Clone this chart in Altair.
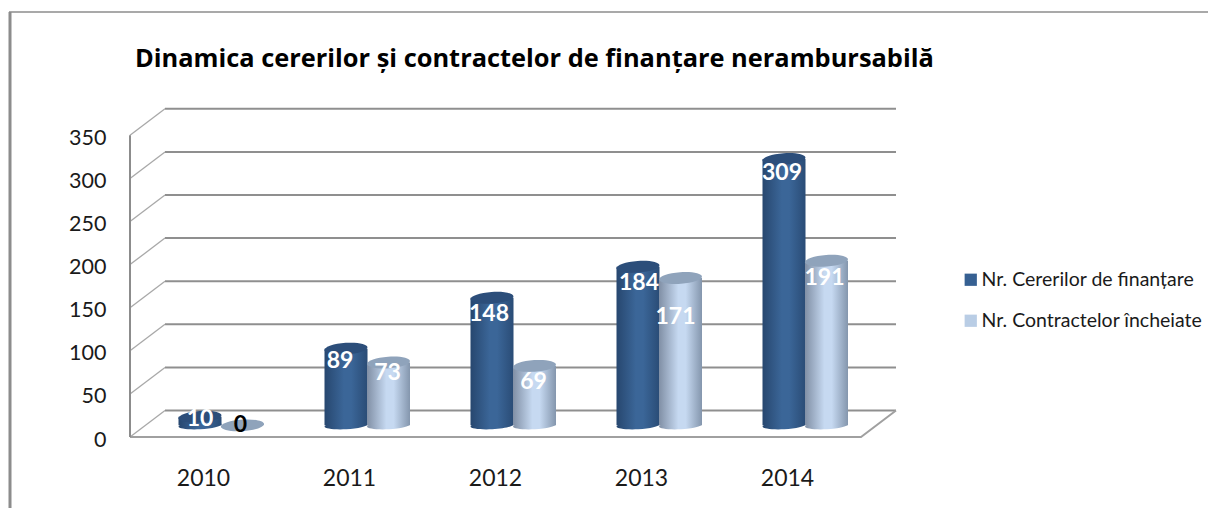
import altair as alt
import pandas as pd

years = [2010, 2011, 2012, 2013, 2014]
series_names = ["Nr. Cererilor de finanțare", "Nr. Contractelor încheiate"]
cereri = [10, 89, 148, 184, 309]
contracte = [0, 73, 69, 171, 191]
y_ticks = [0, 50, 100, 150, 200, 250, 300, 350]
title_text = "Dinamica cererilor și contractelor de finanțare nerambursabilă"

# ---- geometry / style (not data)
W, H = 766, 328
PX_X = 146.0
PX_Y = 0.862
X_DOM = [2009.5, 2009.5 + W / PX_X]
Y_DOM = [0, H / PX_Y]
DEPTH_X = 35 / PX_X
DEPTH_Y = 26.5 / PX_Y
BASE = 13.5          # cylinders stand mid-depth on the floor
HALF = 21.5 / PX_X
OFFS = [-3 / PX_X, 39.5 / PX_X]
FONT = "Lato"
GRID = "#8f8f8f"
LABEL_SHIFT = {  # px below top of cylinder, px sideways
    0: [(2, 0), (12, -6), (16, -3), (16, 1), (14, -2)],
    1: [(0, -2), (11, -1), (16, -1), (39, -5), (17, -2)],
}

x_s = alt.Scale(domain=X_DOM, nice=False, zero=False)
y_s = alt.Scale(domain=Y_DOM, nice=False, zero=False)
X = lambda f, **k: alt.X(f, type="quantitative", scale=x_s, title=None, **k)
Y = lambda f, **k: alt.Y(f, type="quantitative", scale=y_s, title=None, **k)


def grad(edge_l, mid, edge_r):
    return alt.Gradient(
        gradient="linear", x1=0, x2=1, y1=0, y2=0,
        stops=[alt.GradientStop(offset=0, color=edge_l),
               alt.GradientStop(offset=0.45, color=mid),
               alt.GradientStop(offset=0.62, color=mid),
               alt.GradientStop(offset=1, color=edge_r)],
    )


body_fill = [grad("#27476f", "#3b6698", "#2a4c76"), grad("#808fa5", "#c6d9f1", "#8496ad")]
cap_fill = ["#2c4e7a", "#8fa3bb"]

rows = []
for si, vals in enumerate([cereri, contracte]):
    for i, (yr, v) in enumerate(zip(years, vals)):
        c = yr + OFFS[si]
        dy, dx = LABEL_SHIFT[si][i]
        rows.append(dict(series=series_names[si], si=si, cx=c, x0=c - HALF, x1=c + HALF,
                         base=BASE, top=BASE + v, v=v,
                         lx=c + dx / PX_X, ly=BASE + v - dy / PX_Y,
                         lc="#000000" if v == 0 else "#ffffff"))
df = pd.DataFrame(rows)

# grid: side wall diagonal and back wall horizontal for every tick
slant = []
back = []
for t in y_ticks:
    slant += [dict(t=t, x=X_DOM[0], y=t), dict(t=t, x=X_DOM[0] + DEPTH_X, y=t + DEPTH_Y)]
    back += [dict(t=t, x=X_DOM[0] + DEPTH_X, y=t + DEPTH_Y), dict(t=t, x=X_DOM[1], y=t + DEPTH_Y)]
floor_front = [dict(x=X_DOM[0], y=0), dict(x=X_DOM[1] - DEPTH_X, y=0), dict(x=X_DOM[1], y=DEPTH_Y)]
wall = [dict(x=X_DOM[0], y=0), dict(x=X_DOM[0], y=350)]

base_axes = alt.Chart(pd.DataFrame(back)).mark_line(color=GRID, strokeWidth=2, clip=False).encode(
    x=X("x", axis=alt.Axis(values=years, format="d", grid=False, domain=False, ticks=False,
                           labelFont=FONT, labelFontSize=23, labelColor="#1a1a1a",
                           labelPadding=30)),
    y=Y("y", axis=alt.Axis(values=y_ticks, grid=False, domain=False, ticks=False,
                           labelFont=FONT, labelFontSize=21.5, labelColor="#1a1a1a",
                           labelPadding=24, labelOffset=3)),
    detail="t:N",
)
slants = alt.Chart(pd.DataFrame(slant)).mark_line(color="#a8a8a8", strokeWidth=1.3).encode(
    x=X("x"), y=Y("y"), detail="t:N")
front = alt.Chart(pd.DataFrame(floor_front)).mark_line(color="#a0a0a0", strokeWidth=2).encode(
    x=X("x"), y=Y("y"))
leftwall = alt.Chart(pd.DataFrame(wall)).mark_line(color="#8c8c8c", strokeWidth=2).encode(
    x=X("x"), y=Y("y"))

ELL_TOP = "M-1,0A1,0.27,0,1,0,1,0A1,0.27,0,1,0,-1,0Z"
ELL_BOT = "M-1,0A1,0.18,0,1,0,1,0A1,0.18,0,1,0,-1,0Z"
SIZE = (2 * 21.5) ** 2
layers = [base_axes, slants, front, leftwall]
for si in (0, 1):
    d = df[df.si == si]
    src = alt.Chart(d)
    layers.append(src.mark_point(shape=ELL_BOT, size=SIZE, filled=True, fill=body_fill[si], opacity=1,
                                 strokeWidth=0, angle=357).encode(x=X("cx"), y=Y("base")))
    layers.append(src.mark_bar(fill=body_fill[si], strokeWidth=0).encode(
        x=X("x0"), x2="x1", y=Y("base"), y2="top"))
    layers.append(src.mark_point(shape=ELL_TOP, size=SIZE, filled=True, fill=cap_fill[si], opacity=1,
                                 strokeWidth=0, angle=356).encode(x=X("cx"), y=Y("top")))

labels = alt.Chart(df).mark_text(font=FONT, fontSize=23, fontWeight="bold", baseline="middle").encode(
    x=X("lx"), y=Y("ly"), text="v:Q", color=alt.Color("lc:N", scale=None))
layers.append(labels)

legend = alt.Chart(df).mark_square(opacity=0).encode(
    x=X("cx"), y=Y("base"),
    color=alt.Color("series:N",
                    scale=alt.Scale(domain=series_names, range=["#366092", "#b9cde5"]),
                    legend=alt.Legend(title=None, orient="none", legendX=831, legendY=161,
                                      labelFont=FONT, labelFontSize=19.5, labelColor="#1a1a1a",
                                      symbolType="square", symbolSize=150, symbolOpacity=1,
                                      symbolStrokeWidth=0, rowPadding=20, labelOffset=1,
                                      padding=0, labelLimit=300)),
)
layers.append(legend)

title_mark = alt.Chart(pd.DataFrame({"t": [title_text]})).mark_text(
    font="Open Sans", fontSize=25.4, fontWeight="bold", color="#000000", align="left", baseline="alphabetic"
).encode(x=alt.value(5), y=alt.value(-42), text="t:N")
layers.append(title_mark)

frame_left = alt.Chart(pd.DataFrame({"a": [1]})).mark_rule(color="#8c8c8c", strokeWidth=3).encode(
    x=alt.value(-120), y=alt.value(-97), y2=alt.value(400))
frame_top = alt.Chart(pd.DataFrame({"a": [1]})).mark_rule(color="#8c8c8c", strokeWidth=1.5).encode(
    x=alt.value(-121), x2=alt.value(1078), y=alt.value(-97))
layers += [frame_left, frame_top]

chart = alt.layer(*layers).properties(
    width=W, height=H,
    padding={"left": 122, "top": 101, "right": 312, "bottom": 71},
    autosize=alt.AutoSizeParams(type="none"),
).configure_view(stroke=None)

chart.save("out.html", embed_options={"renderer": "svg", "actions": False})
